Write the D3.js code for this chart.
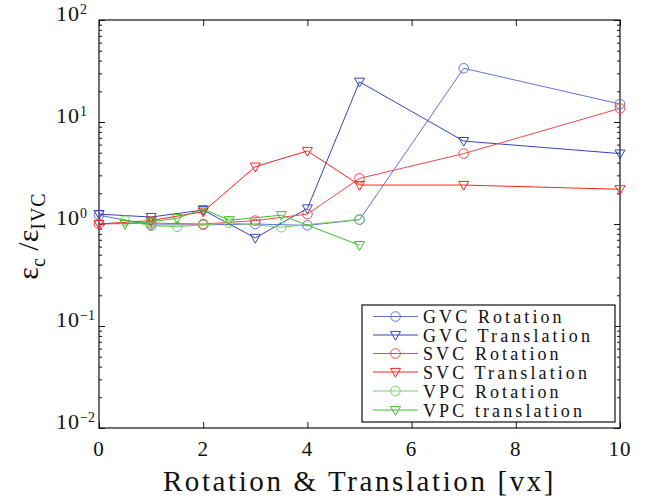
<!DOCTYPE html>
<html>
<head>
<meta charset="utf-8">
<script src="https://cdn.jsdelivr.net/npm/d3@7"></script>
<style>
  body { margin: 0; background: #fff; }
  svg text { font-family: "Liberation Serif", "DejaVu Serif", serif; fill: #111; }
</style>
</head>
<body>
<div id="chart"></div>
<script>
// x positions (rotation / translation, in voxels)
var xMain = [0, 1, 2, 3, 4, 5, 7, 10];
var xVpc  = [0.5, 1, 1.5, 2, 2.5, 3.5, 5];

// error ratio eps_c / eps_IVC
var gvcRotation    = [1.22, 0.98, 0.98, 1.00, 0.97, 1.10, 33.6, 15.0];
var gvcTranslation = [1.25, 1.17, 1.37, 0.73, 1.42, 24.8, 6.5, 4.9];
var svcRotation    = [1.00, 1.02, 1.00, 1.08, 1.25, 2.80, 4.9, 13.6];
var svcTranslation = [1.00, 1.08, 1.32, 3.65, 5.20, 2.41, 2.41, 2.19];
var vpcRotation    = [1.08, 0.96, 0.94, 0.98, 1.03, 0.93, 1.11];
var vpcTranslation = [1.00, 1.05, 1.14, 1.40, 1.09, 1.22, 0.62];

var seriesNames = ["GVC Rotation", "GVC Translation", "SVC Rotation",
                   "SVC Translation", "VPC Rotation", "VPC translation"];

var xTicks = [0, 2, 4, 6, 8, 10];
var yTickExps = [-2, -1, 0, 1, 2];

var series = [
    {name: seriesNames[0], xs: xMain, ys: gvcRotation,    color: "#6272d6", marker: "circle"},
    {name: seriesNames[1], xs: xMain, ys: gvcTranslation, color: "#3444b8", marker: "tri"},
    {name: seriesNames[2], xs: xMain, ys: svcRotation,    color: "#f04848", marker: "circle"},
    {name: seriesNames[3], xs: xMain, ys: svcTranslation, color: "#ff2020", marker: "tri"},
    {name: seriesNames[4], xs: xVpc,  ys: vpcRotation,    color: "#72d062", marker: "circle"},
    {name: seriesNames[5], xs: xVpc,  ys: vpcTranslation, color: "#3fbf2c", marker: "tri"}
];

var W = 651, H = 499;
var plot = {left: 99, right: 620, top: 20, bottom: 428};

var svg = d3.select("#chart").append("svg")
    .attr("width", W).attr("height", H);

var x = d3.scaleLinear().domain([0, 10]).range([plot.left, plot.right]);
var y = d3.scaleLog().domain([0.01, 100]).range([plot.bottom, plot.top]);

// minor log ticks
var minor = [];
yTickExps.slice(0, -1).forEach(function (e) {
    for (var k = 2; k <= 9; k++) minor.push(k * Math.pow(10, e));
});
var major = yTickExps.map(function (e) { return Math.pow(10, e); });

function drawTicks(g) {
    g.selectAll("line").attr("stroke", "#111");
    g.select(".domain").remove();
}

// y axes, ticks pointing inward
svg.append("g").attr("transform", "translate(" + plot.left + ",0)")
    .call(d3.axisLeft(y).tickValues(major).tickSize(-6).tickFormat(""))
    .call(drawTicks);
svg.append("g").attr("transform", "translate(" + plot.left + ",0)")
    .call(d3.axisLeft(y).tickValues(minor).tickSize(-3).tickFormat(""))
    .call(drawTicks);
svg.append("g").attr("transform", "translate(" + plot.right + ",0)")
    .call(d3.axisRight(y).tickValues(major).tickSize(-6).tickFormat(""))
    .call(drawTicks);
svg.append("g").attr("transform", "translate(" + plot.right + ",0)")
    .call(d3.axisRight(y).tickValues(minor).tickSize(-3).tickFormat(""))
    .call(drawTicks);

// x axes
svg.append("g").attr("transform", "translate(0," + plot.bottom + ")")
    .call(d3.axisBottom(x).tickValues(xTicks).tickSize(-6).tickFormat(""))
    .call(drawTicks);
svg.append("g").attr("transform", "translate(0," + plot.top + ")")
    .call(d3.axisTop(x).tickValues(xTicks).tickSize(-6).tickFormat(""))
    .call(drawTicks);

// box
svg.append("rect")
    .attr("x", plot.left).attr("y", plot.top)
    .attr("width", plot.right - plot.left).attr("height", plot.bottom - plot.top)
    .attr("fill", "none").attr("stroke", "#111").attr("stroke-width", 1.2);

// tick labels
svg.selectAll(".xlab").data(xTicks).enter().append("text")
    .attr("x", function (d) { return x(d); })
    .attr("y", 456)
    .attr("text-anchor", "middle")
    .style("font-size", "21px").style("letter-spacing", "1px")
    .text(function (d) { return d; });

svg.selectAll(".ylab").data(yTickExps).enter().append("text")
    .attr("x", 80)
    .attr("y", function (d) { return y(Math.pow(10, d)) + 1; })
    .attr("text-anchor", "end")
    .style("font-size", "22px").style("letter-spacing", "1px")
    .text("10");
svg.selectAll(".yexp").data(yTickExps).enter().append("text")
    .attr("x", 80)
    .attr("y", function (d) { return y(Math.pow(10, d)) - 6.5; })
    .style("font-size", "14px")
    .text(function (d) { return d < 0 ? "\u2212" + (-d) : d; });

// axis titles
svg.append("text")
    .attr("x", (plot.left + plot.right) / 2)
    .attr("y", 491)
    .attr("text-anchor", "middle")
    .style("font-size", "29px").style("letter-spacing", "2.6px")
    .text("Rotation & Translation [vx]");

var yt = svg.append("text")
    .attr("transform", "translate(38,236) rotate(-90)")
    .attr("text-anchor", "middle")
    .style("font-size", "30px");
yt.append("tspan").text("\u03b5");
yt.append("tspan").attr("dy", 7).style("font-size", "20px").text("c");
yt.append("tspan").attr("dy", -7).text(" /\u03b5");
yt.append("tspan").attr("dy", 7).style("font-size", "20px").style("letter-spacing", "1px").text("IVC");

// series
var line = d3.line()
    .x(function (d) { return x(d[0]); })
    .y(function (d) { return y(d[1]); });

var triPath = "M-5,-3.6L5,-3.6L0,5.2Z";

function drawMarker(sel, s) {
    if (s.marker === "circle") {
        sel.append("circle").attr("r", 4.8)
            .attr("fill", "none").attr("stroke", s.color).attr("stroke-width", 1);
    } else {
        sel.append("path").attr("d", triPath)
            .attr("fill", "none").attr("stroke", s.color).attr("stroke-width", 1);
    }
}

series.forEach(function (s) {
    var pts = s.xs.map(function (v, i) { return [v, s.ys[i]]; });
    var g = svg.append("g");
    g.append("path").datum(pts)
        .attr("d", line)
        .attr("fill", "none")
        .attr("stroke", s.color)
        .attr("stroke-width", 1);
    g.selectAll("g.pt").data(pts).enter().append("g")
        .attr("class", "pt")
        .attr("transform", function (d) { return "translate(" + x(d[0]) + "," + y(d[1]) + ")"; })
        .each(function () { drawMarker(d3.select(this), s); });
});

// legend
var leg = svg.append("g");
leg.append("rect")
    .attr("x", 362).attr("y", 305).attr("width", 253).attr("height", 117)
    .attr("fill", "#fff").attr("stroke", "#111").attr("stroke-width", 1.2);

var rowY = [316.5, 335, 353.5, 372, 391, 410];
series.forEach(function (s, i) {
    var r = leg.append("g").attr("transform", "translate(0," + rowY[i] + ")");
    r.append("line").attr("x1", 373).attr("x2", 418).attr("y1", 0).attr("y2", 0)
        .attr("stroke", s.color).attr("stroke-width", 1);
    drawMarker(r.append("g").attr("transform", "translate(395.5,0)"), s);
    r.append("text").attr("x", 423).attr("y", 6.5)
        .style("font-size", "18px").style("letter-spacing", "3.1px")
        .text(s.name);
});
</script>
</body>
</html>
